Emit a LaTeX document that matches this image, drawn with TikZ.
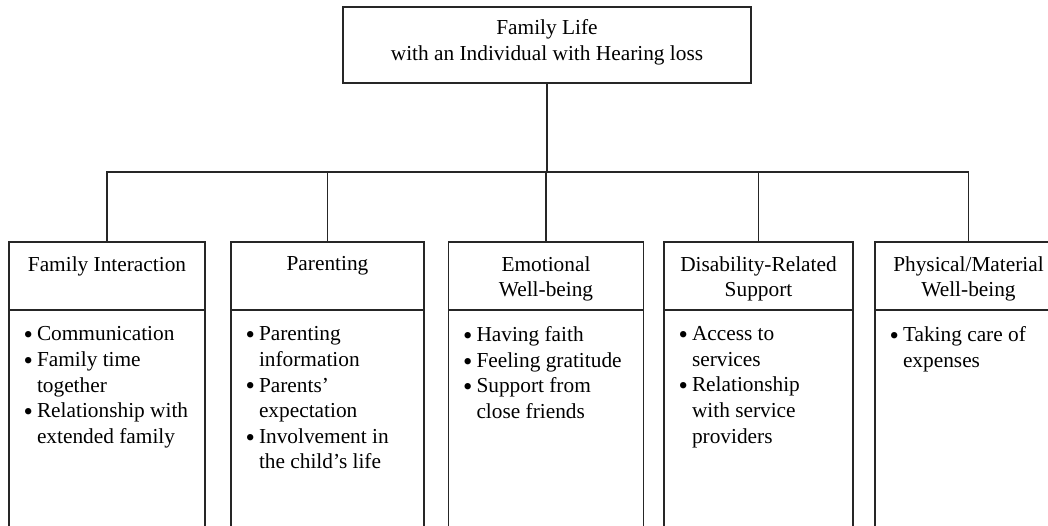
\documentclass[tikz,border=0pt]{standalone}
\usepackage{fontspec}
\setmainfont{Liberation Serif}
\usepackage{enumitem}
\usepackage{tikz}
\usetikzlibrary{positioning}
\tikzstyle{link} = [draw,line width=1pt,black!85]
\tikzset{box/.style={rectangle,draw=black!85,line width=1pt,fill=white,inner xsep=3pt,inner ysep=0pt,outer sep=0pt}}
\setlist[itemize]{label={\raisebox{-2.2pt}{\fontsize{20}{19}\selectfont\textbullet}},leftmargin=18pt,labelsep=3pt,itemsep=0pt,topsep=0pt,parsep=0pt,partopsep=0pt}
\newcommand{\cellbox}[4][10.75pt]{\parbox[c][#3][t]{\dimexpr#2-6pt\relax}{\fontsize{16}{19.2}\selectfont\vspace*{#1}#4}}

\begin{document}
\begin{tikzpicture}[x=0.75pt,y=-0.75pt]

 \useasboundingbox (0,0) rectangle (1048,525);
 \clip (0,0) rectangle (1048,525);

 %top
 \node[box] (root) at (547,45) {\cellbox[9.5pt]{306pt}{57pt}{\centering Family Life\\with an Individual with Hearing loss}};

 %headers
   \foreach \x/\w/\name/\label in {107/147pt/h1/{Family Interaction}, 327.5/144.75pt/h2/Parenting, 546/146.25pt/h3/{Emotional\\Well-being}, 758.5/141.75pt/h4/{Disability-Related\\Support}, 968.5/140.25pt/h5/{Physical/Material\\Well-being}}
          \node[box] (\name) at (\x,276) {\cellbox{\w}{51pt}{\centering\label}};

 %lists
   \foreach \w/\head/\name/\items in {147pt/h1/l1/{\item Communication \item Family time\newline together \item Relationship with\newline extended family},
                                     144.75pt/h2/l2/{\item Parenting\newline information \item Parents’\newline expectation \item Involvement in\newline the child’s life},
                                     146.25pt/h3/l3/{\item Having faith \item Feeling gratitude \item Support from\newline close friends},
                                     141.75pt/h4/l4/{\item Access to\newline services \item Relationship\newline with service\newline providers},
                                     140.25pt/h5/l5/{\item Taking care of\newline expenses}}
          \node[box,below=0pt of \head] (\name) {\cellbox[12.5pt]{\w}{172.5pt}{\begin{itemize}\items\end{itemize}}};

 \coordinate (bus) at (547,172);
 \path[link] (root) -- (bus);

  \foreach \name in {h1,h2,h3,h4,h5}
         \path[link] (bus) -| (\name.north);

\end{tikzpicture}
\end{document}
